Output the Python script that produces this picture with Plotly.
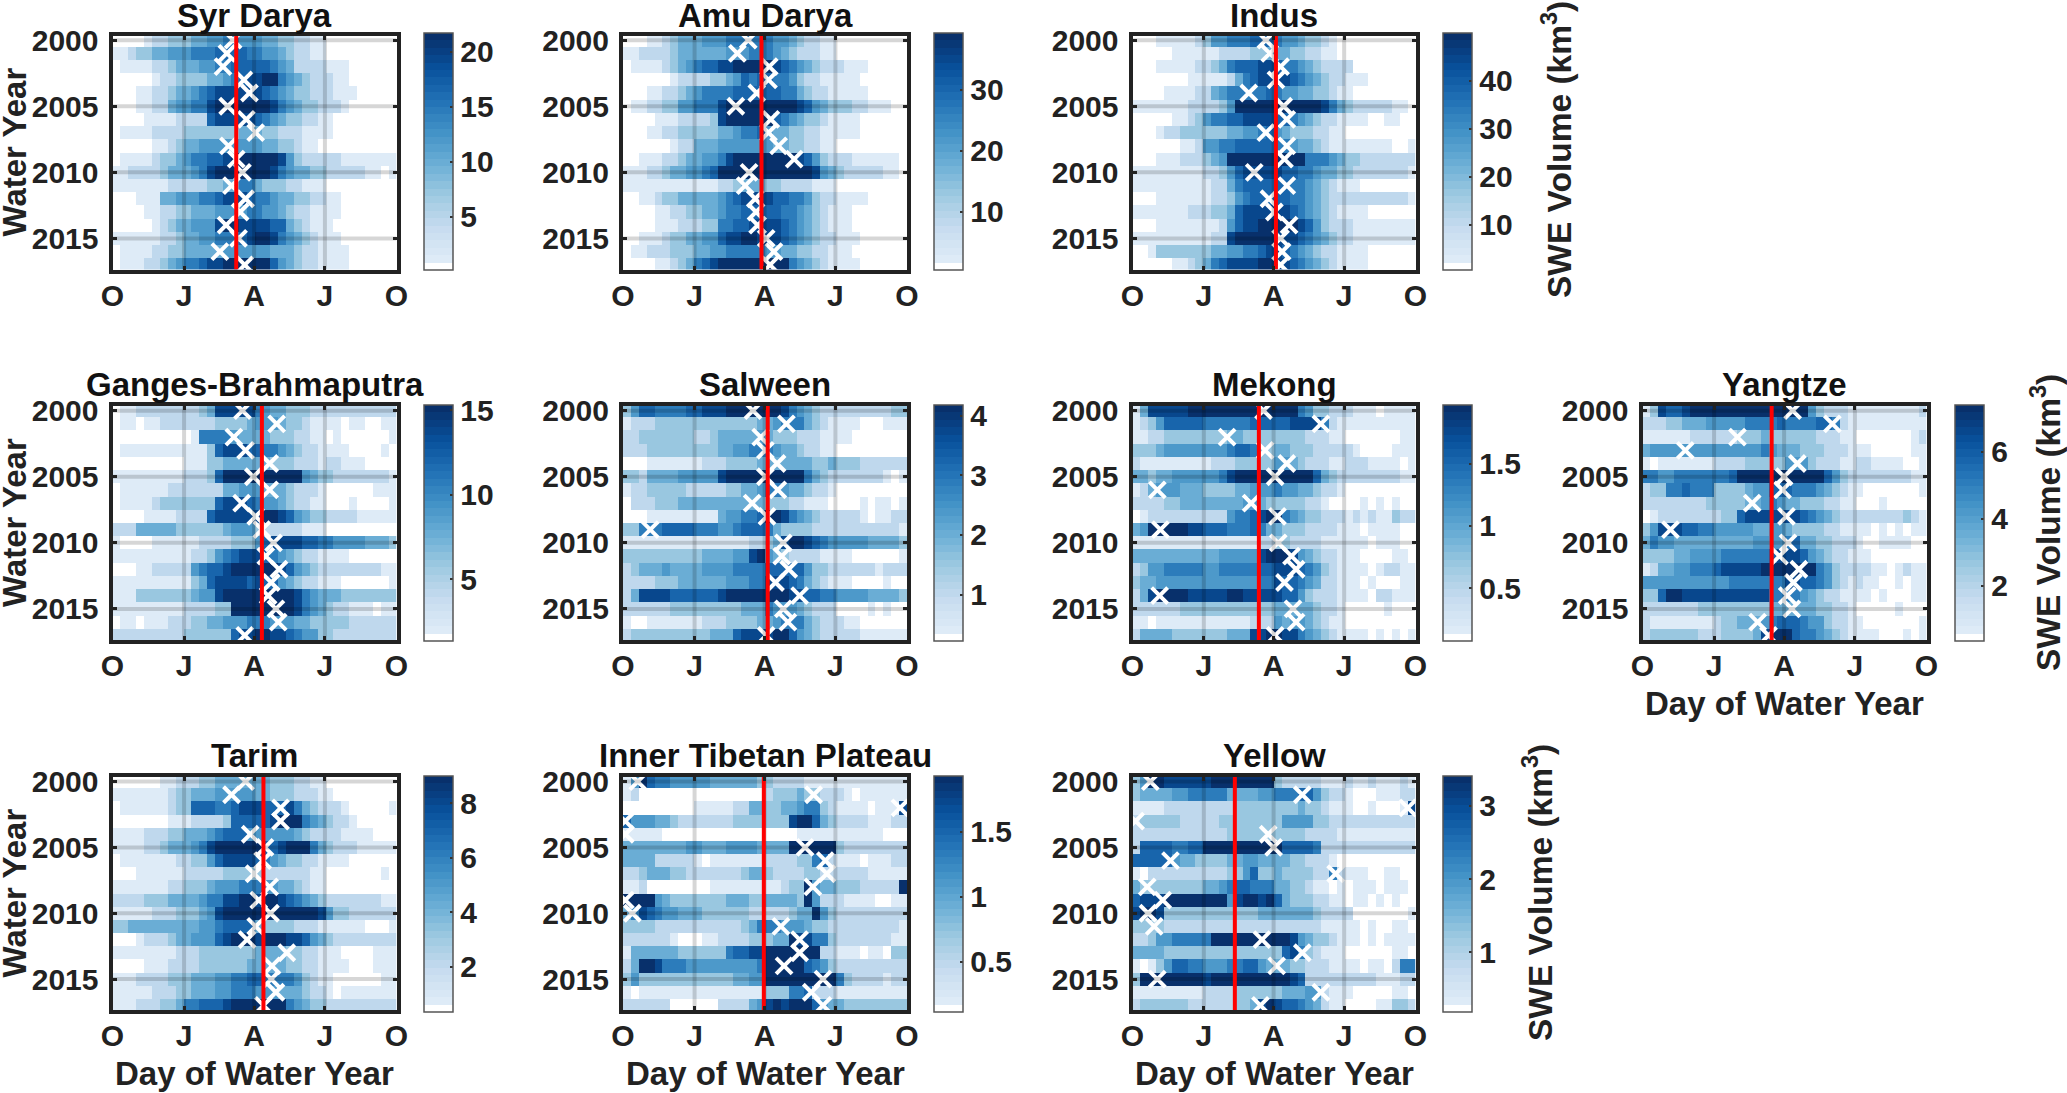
import numpy as np
import plotly.graph_objects as go

W, H = 2067, 1093

YEARS = list(range(2000, 2018))
YEAR_TICKS = [2000, 2005, 2010, 2015]
MONTH_TICKS = [0, 92, 182, 273, 365]
MONTH_LABELS = ["O", "J", "A", "J", "O"]

# One string per water year, 36 ten-day columns, split by quarter (O-J, J-A, A-J, J-O)
SYR_DARYA = [
    "000012233 344556655 544332211 000000000",
    "112334455 566677776 655432211 000000000",
    "011112234 445566777 776542222 111000000",
    "000001223 333445678 899654322 211000000",
    "000112234 456788888 876543322 211100000",
    "000112245 566899999 998654332 221000000",
    "000011112 222788888 765433221 100000000",
    "011112222 333333344 433222111 100000000",
    "000001123 445555555 544332110 000000000",
    "011112334 566778999 999853222 221111111",
    "112222344 456899999 998654433 222221101",
    "111111122 222334466 433322111 000000000",
    "000111445 556678887 665443322 110000000",
    "000011223 344455556 655432211 110000000",
    "000001234 455589988 887743211 100000000",
    "111111223 445566678 998654321 110000000",
    "011112233 444445555 554443221 111000000",
    "011122345 667889999 997543221 111000000",
]
AMU_DARYA = [
    "000112344 455566666 655432211 000000000",
    "112222344 444455566 654322211 000000000",
    "011112345 677889999 987654322 211100000",
    "000000122 223345767 766532211 111000000",
    "000112234 566667777 776643221 111100000",
    "011223355 666899999 999987543 332211100",
    "000011122 223899999 976543321 111000000",
    "000112233 333445667 544332211 111000000",
    "000000122 444555555 544332211 000000000",
    "001112234 455689999 999987532 221111110",
    "111223445 567999999 999999854 322222110",
    "111111111 111223444 332222111 000000000",
    "001123344 444567888 877665322 111100000",
    "000011223 344566777 776654321 110000000",
    "000011122 233667788 887654321 110000000",
    "001112334 455788998 887654322 111000000",
    "011222333 445566666 554433221 110000000",
    "000011234 678999999 999654321 111000000",
]
INDUS = [
    "000111112 355666777 655433210 000000000",
    "000001111 112222334 443322110 000000000",
    "000111112 234677788 766543222 200000000",
    "000000011 111246788 887654322 111000000",
    "000011112 245666667 655443321 100000000",
    "111111122 223599999 999999864 322222110",
    "000001123 566778888 776543221 111001100",
    "000122333 333445567 543332211 000000000",
    "000000112 556677777 665443211 111111001",
    "000111222 345999999 999966654 332222222",
    "111111111 223578888 877665443 322222221",
    "111111111 122467777 776654321 110000000",
    "000111111 122356777 776654322 222222221",
    "111111122 233478888 887654321 111000000",
    "000111111 112578899 999875322 211111111",
    "111111111 122899999 888765432 211111111",
    "001333333 344556678 876543221 111000000",
    "000001123 467888899 887654321 111000000",
]
GANGES = [
    "011222222 223488888 654433322 222222222",
    "011011222 222233334 555433211 110110011",
    "000000000 016666544 443332211 010000001",
    "011111111 111378887 766543221 111000010",
    "000000000 111334444 443332221 221110000",
    "111111111 222379999 999999543 322222221",
    "011111122 222224455 544432221 000000111",
    "011112333 333378887 655432211 000100001",
    "000011112 222788888 899875433 222211111",
    "222444443 333334555 322222111 000000000",
    "100001111 112222333 578888776 655554443",
    "111111111 122356788 876543221 111000000",
    "000112222 256778999 999875432 222222211",
    "111111111 134788887 877543221 110000001",
    "111333333 345589999 999998654 443333333",
    "111111111 222233999 999998654 322111011",
    "011011122 233445556 665554433 333222222",
    "222222222 333333788 998876553 322222222",
]
SALWEEN = [
    "357766667 788899999 998654322 222222233",
    "122233333 333333334 456664321 111000111",
    "223333333 223444445 433322211 110000000",
    "222333333 333445566 654432211 000000000",
    "000111111 122233334 444444334 333222222",
    "332444455 555899999 999996432 222222101",
    "122333332 222233445 665443221 000000000",
    "022233344 444444444 333221110 000101101",
    "000111111 111455667 998654322 222101122",
    "336667777 666556777 643333222 222222221",
    "111111111 111111122 348998765 555544443",
    "333333333 344445589 543222211 110000001",
    "234445444 455556666 777775332 222221222",
    "222233344 444455566 888764321 110000100",
    "248888777 777899999 999887766 555544443",
    "222222333 333333444 655543222 000010100",
    "100111111 122233334 456664322 211000000",
    "233333333 334447888 899754322 222111111",
]
MEKONG = [
    "148888899 999999999 999653322 211101111",
    "123577777 666666777 778888621 111111111",
    "112233333 333443333 333322211 000000011",
    "333455555 555677633 443332222 210000111",
    "211111111 122233333 554322211 222111101",
    "443445555 556899999 999997432 222222211",
    "124555444 333344555 655443221 000000000",
    "222233444 444445543 333322100 001010100",
    "012222222 222566789 965433222 121211322",
    "459999988 777666764 433322221 110111100",
    "111111111 111111122 332222111 111011100",
    "444444444 445555589 998543221 110000110",
    "235566666 556666677 888765321 111012211",
    "344555555 555555566 877654221 110100011",
    "248999988 888998888 877532221 111022111",
    "222222333 333333333 444443221 000001000",
    "110111111 111111222 545543211 000000000",
    "244443333 333444889 988654321 111010101",
]
YANGTZE = [
    "138778999 999999999 999532221 111111112",
    "222334445 555566667 666677621 111111111",
    "111111222 222333433 333322211 000000012",
    "455555555 555555654 443332221 110000011",
    "101111111 222233333 555322211 221111001",
    "665566666 667999999 999997532 222222211",
    "233667666 333345577 766654321 100000001",
    "222222223 333344565 443332211 000100000",
    "012222222 233788888 887654322 222222321",
    "358887766 555554455 433332211 110101011",
    "465544444 444445555 674433222 100111100",
    "333344555 566666678 887543221 110000000",
    "124455666 788888999 999965322 221101211",
    "555555555 556666666 887765321 211001011",
    "337998888 888888866 665432211 110100011",
    "222222233 333333344 444433221 000001000",
    "211111111 233444567 776553221 100000001",
    "233333322 233334899 976654321 111000101",
]
TARIM = [
    "000000112 223344444 443332211 000000000",
    "111111123 344455555 443332221 100000000",
    "011111123 377766788 877786432 221000001",
    "000000011 122223777 778999654 322100000",
    "111122233 444567775 555554322 221111000",
    "111122344 456899999 977899964 322211111",
    "011111112 233578888 765433221 111000000",
    "000111111 222223333 322222211 000000010",
    "111111122 333455566 655443211 000000000",
    "222233344 445668899 899876543 222222211",
    "111112223 334589999 999999998 533222222",
    "334444444 445567777 433332221 111110001",
    "000122234 455578999 899988754 322222222",
    "111111112 223333333 444433221 110000111",
    "000011122 223333334 444433221 111000111",
    "111222233 344455667 766665321 100000011",
    "111112223 344455666 555444322 101111111",
    "111222334 667778999 999965433 222222222",
]
INNER_TIBET = [
    "159766555 554444443 322221111 111111111",
    "120000000 000000000 233343322 210111111",
    "000000000 111112244 334456632 111101118",
    "755544322 222223333 333899743 222211122",
    "111110000 000000000 000011111 111111000",
    "444444445 544455554 444999999 322222222",
    "444422222 101111111 222233672 111011122",
    "223444332 222222344 322223322 222211111",
    "112000000 001111111 112339544 333222229",
    "999954333 333344433 444439522 211110011",
    "468765544 433333322 222344953 222222222",
    "333322222 222222346 665554332 222222221",
    "222222100 011222233 344988663 222222211",
    "144444433 333367788 999999922 111011033",
    "249986665 555555556 999997653 222222222",
    "353333333 333334455 999999999 632222122",
    "101111111 111111111 333667222 111111111",
    "222222000 000222245 898999754 433333333",
]
YELLOW = [
    "359988888 899999999 322222111 211211121",
    "344445566 666444455 666775322 100011122",
    "111122222 222233333 333433211 100100018",
    "233333222 223333333 355553322 222222222",
    "222222222 222333333 333322221 111111111",
    "277776677 999999999 977776222 222222222",
    "777775443 333445544 443322210 000000000",
    "102222222 222335733 433332262 111001100",
    "433333333 445677666 443321101 011101110",
    "788899999 999589989 743332211 011010100",
    "899833333 333333344 444443222 200000001",
    "333322222 222222222 222222111 110100110",
    "223556666 699999999 998543321 110101111",
    "444433333 333333333 378632111 000000110",
    "101357766 555667754 443322211 110110266",
    "399999999 899999999 998722222 222211122",
    "111111111 222233333 344455211 100000110",
    "233333322 222233489 877654211 000011332",
]

# day of water year of the white crosses, one per year
SYR_DARYA_PEAK = [155, 147, 142, 169, 176, 148, 172, 184, 149, 159, 167, 153, 171, 164, 146, 162, 138, 170]
AMU_DARYA_PEAK = [161, 147, 188, 187, 172, 145, 190, 187, 200, 220, 162, 157, 170, 171, 173, 184, 194, 189]
INDUS_PEAK = [172, 177, 191, 185, 150, 195, 199, 172, 199, 196, 157, 199, 176, 183, 202, 191, 193, 191]
GANGES_PEAK = [167, 211, 156, 171, 202, 181, 202, 166, 184, 192, 207, 197, 214, 204, 200, 210, 213, 170]
SALWEEN_PEAK = [167, 210, 177, 183, 198, 183, 199, 166, 185, 35, 206, 204, 213, 196, 227, 206, 212, 184]
MEKONG_PEAK = [169, 243, 122, 171, 199, 184, 32, 153, 187, 36, 188, 205, 211, 196, 35, 207, 211, 184]
YANGTZE_PEAK = [193, 244, 122, 55, 199, 182, 180, 141, 185, 36, 187, 176, 201, 194, 186, 192, 148, 162]
TARIM_PEAK = [171, 153, 216, 216, 177, 196, 193, 182, 202, 188, 203, 184, 173, 224, 205, 204, 210, 194]
INNER_TIBET_PEAK = [19, 245, 356, 3, 3, 234, 260, 262, 244, 3, 12, 203, 227, 227, 207, 257, 242, 257]
YELLOW_PEAK = [23, 219, 355, 4, 175, 182, 49, 262, 19, 39, 20, 28, 167, 219, 186, 32, 243, 165]

BASINS = ["Syr Darya", "Amu Darya", "Indus", "Ganges-Brahmaputra", "Salween", "Mekong",
          "Yangtze", "Tarim", "Inner Tibetan Plateau", "Yellow"]
LEVELS = [SYR_DARYA, AMU_DARYA, INDUS, GANGES, SALWEEN, MEKONG, YANGTZE, TARIM, INNER_TIBET, YELLOW]
PEAKS = [SYR_DARYA_PEAK, AMU_DARYA_PEAK, INDUS_PEAK, GANGES_PEAK, SALWEEN_PEAK, MEKONG_PEAK,
         YANGTZE_PEAK, TARIM_PEAK, INNER_TIBET_PEAK, YELLOW_PEAK]
MEAN_PEAK = [159, 178, 185, 192, 186, 163, 166, 194, 181, 132]
SWE_MIN = [0.15, 0.4, 0.6, 1.33, 0.22, 0.075, 0.36, 0.35, 0.115, 0.18]
SWE_MAX = [21.7, 39.3, 49.9, 15.3, 4.18, 1.97, 7.39, 8.99, 1.93, 3.41]
CBAR_TICKS = [
    [5, 10, 15, 20], [10, 20, 30], [10, 20, 30, 40], [5, 10, 15], [1, 2, 3, 4],
    [0.5, 1, 1.5], [2, 4, 6], [2, 4, 6, 8], [0.5, 1, 1.5], [1, 2, 3],
]
# share of each panel's colour range that a shade level stands for
LEVEL_SHARE = [0, 0.05, 0.2, 0.33, 0.45, 0.56, 0.67, 0.78, 0.89, 1]

# panel layout in pixels
COL_X = [(112.5, 396.5), (623, 907), (1132.5, 1415.5), (1642.5, 1926.5)]
ROW_Y = [(35.5, 269.5), (406, 640), (777, 1010)]
CBAR_X = [424, 934, 1443, 1955]
CBAR_Y = [(33, 270), (405, 641), (776, 1012)]
CBAR_W = 29
GRID = [(0, 0), (0, 1), (0, 2), (1, 0), (1, 1), (1, 2), (1, 3), (2, 0), (2, 1), (2, 2)]

FONT = "Liberation Sans"
INK = "#222222"
GRID_COLOR = "rgba(0,0,0,0.16)"


def blues(n=32):
    # stepped colormap like the MATLAB one, white bottom band then pale to navy
    anchors = ["#deebf7", "#c6dbef", "#9ecae1", "#6baed6", "#4292c6", "#2171b5", "#08519c", "#08306b"]
    rgb = np.array([[int(a[i:i + 2], 16) for i in (1, 3, 5)] for a in anchors], dtype=float)
    pos = np.linspace(0, 1, len(anchors))
    scale = [[0, "#ffffff"], [1 / n, "#ffffff"]]
    for k in range(1, n):
        t = (k - 1) / (n - 2)
        c = [int(round(np.interp(t, pos, rgb[:, j]))) for j in range(3)]
        col = f"rgb({c[0]},{c[1]},{c[2]})"
        scale += [[k / n, col], [(k + 1) / n, col]]
    return scale


def decode(rows, zmin, zmax):
    grid = []
    for row in rows:
        digits = row.replace(" ", "").ljust(36, "0")[:36]
        grid.append([zmin + (zmax - zmin) * LEVEL_SHARE[int(ch)] for ch in digits])
    return grid


fig = go.Figure()
colorscale = blues()
edges = np.linspace(0, 365, 37)
y_range = [2017.35, 1999.65]
layout = {}

for i, basin in enumerate(BASINS):
    r, c = GRID[i]
    suffix = "" if i == 0 else str(i + 1)
    xa, ya = f"x{suffix}", f"y{suffix}"
    x0, x1 = COL_X[c]
    y0, y1 = ROW_Y[r]
    cb_y0, cb_y1 = CBAR_Y[r]

    fig.add_trace(go.Heatmap(
        z=decode(LEVELS[i], SWE_MIN[i], SWE_MAX[i]),
        x=edges,
        y=YEARS,
        zmin=SWE_MIN[i],
        zmax=SWE_MAX[i],
        colorscale=colorscale,
        xaxis=xa,
        yaxis=ya,
        colorbar=dict(
            x=CBAR_X[c] / W,
            xanchor="left",
            y=1 - cb_y1 / H,
            yanchor="bottom",
            lenmode="pixels",
            len=cb_y1 - cb_y0,
            thicknessmode="pixels",
            thickness=CBAR_W,
            xpad=0,
            ypad=0,
            outlinecolor="#555555",
            outlinewidth=1.5,
            tickmode="array",
            tickvals=CBAR_TICKS[i],
            ticktext=[f"{t:g}" for t in CBAR_TICKS[i]],
            tickprefix="\u00a0",
            ticks="inside",
            ticklen=3,
            tickwidth=1.5,
            tickcolor="#333333",
            tickfont=dict(family=FONT, size=30, color=INK, weight="bold"),
        ),
    ))
    fig.add_trace(go.Scatter(
        x=PEAKS[i], y=YEARS, mode="markers", xaxis=xa, yaxis=ya,
        marker=dict(symbol="x-thin", size=16, line=dict(color="white", width=4)),
    ))
    for year in YEAR_TICKS:
        fig.add_trace(go.Scatter(x=[MONTH_TICKS[0], MONTH_TICKS[-1]], y=[year, year], mode="lines",
                                 xaxis=xa, yaxis=ya, line=dict(color=GRID_COLOR, width=4)))
    for day in MONTH_TICKS[1:-1]:
        fig.add_trace(go.Scatter(x=[day, day], y=y_range, mode="lines",
                                 xaxis=xa, yaxis=ya, line=dict(color=GRID_COLOR, width=4)))
    fig.add_trace(go.Scatter(x=[MEAN_PEAK[i], MEAN_PEAK[i]], y=y_range, mode="lines",
                             xaxis=xa, yaxis=ya, line=dict(color="#ff0000", width=4)))

    axis_style = dict(
        showgrid=False,
        zeroline=False,
        showline=True,
        linecolor=INK,
        linewidth=4,
        mirror="ticks",
        ticks="inside",
        ticklen=4,
        tickwidth=3,
        tickcolor=INK,
        tickfont=dict(family=FONT, size=30, color=INK, weight="bold"),
    )
    layout[f"xaxis{suffix}"] = dict(
        axis_style,
        domain=[x0 / W, x1 / W],
        anchor=ya,
        range=[0, 365],
        tickmode="array",
        tickvals=MONTH_TICKS,
        ticktext=MONTH_LABELS,
        tickangle=0,
        ticklabelstandoff=-4,
    )
    layout[f"yaxis{suffix}"] = dict(
        axis_style,
        domain=[1 - y1 / H, 1 - y0 / H],
        anchor=xa,
        range=y_range,
        tickmode="array",
        tickvals=YEAR_TICKS,
        ticktext=[str(y) for y in YEAR_TICKS],
        ticklabelstandoff=4,
    )

    fig.add_annotation(text=basin, xref=f"{xa} domain", yref=f"{ya} domain", x=0.5, y=1,
                       yshift=20 if r == 0 else 22,
                       xanchor="center", yanchor="middle", showarrow=False,
                       font=dict(family=FONT, size=33, color="#111111", weight="bold"))

    if c == 0:
        fig.add_annotation(text="Water Year", xref="paper", yref=f"{ya} domain", x=14 / W, y=0.5,
                           xanchor="center", yanchor="middle", textangle=-90, showarrow=False,
                           font=dict(family=FONT, size=33, color=INK, weight="bold"))
    if r == 2 or basin == "Yangtze":
        fig.add_annotation(text="Day of Water Year", xref=f"{xa} domain", yref=f"{ya} domain", x=0.5, y=0,
                           yshift=-63, xanchor="center", yanchor="middle", showarrow=False,
                           font=dict(family=FONT, size=33, color=INK, weight="bold"))

for px_x, px_y in [(1557, 150), (2046, 523), (1538, 893)]:
    fig.add_annotation(text="SWE Volume (km<sup>3</sup>)", xref="paper", yref="paper",
                       x=px_x / W, y=1 - px_y / H, xanchor="center", yanchor="middle",
                       textangle=-90, showarrow=False,
                       font=dict(family=FONT, size=33.5, color=INK, weight="bold"))

fig.update_layout(
    **layout,
    width=W,
    height=H,
    margin=dict(l=0, r=0, t=0, b=0, pad=0, autoexpand=False),
    paper_bgcolor="white",
    plot_bgcolor="white",
    showlegend=False,
    font=dict(family=FONT, color=INK),
)

fig.write_html("out.html", config=dict(displayModeBar=False), post_script="document.body.style.margin='0';")
